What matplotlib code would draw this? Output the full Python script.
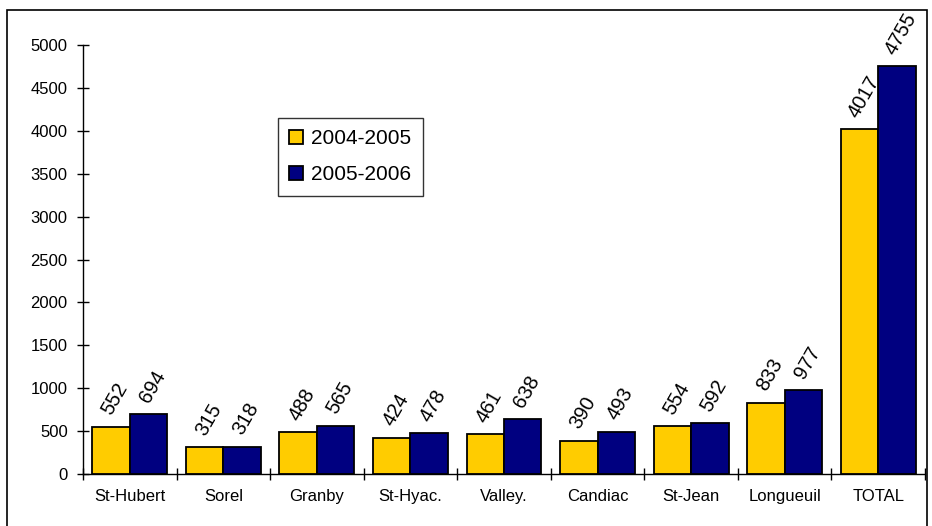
"""
Bar chart: counts per site, 2004-2005 vs 2005-2006.
"""
import matplotlib

matplotlib.use("Agg")
import matplotlib.pyplot as plt
import numpy as np
from matplotlib.patches import Rectangle


sites = ["St-Hubert", "Sorel", "Granby", "St-Hyac.", "Valley.",
         "Candiac", "St-Jean", "Longueuil", "TOTAL"]
values_0405 = [552, 315, 488, 424, 461, 390, 554, 833, 4017]
values_0506 = [694, 318, 565, 478, 638, 493, 592, 977, 4755]
series_labels = ["2004-2005", "2005-2006"]
yticks = list(range(0, 5001, 500))

plt.rcParams["font.family"] = ["Liberation Sans", "DejaVu Sans"]

fig = plt.figure(figsize=(9.32, 5.26), dpi=100)
ax = fig.add_axes([83 / 932, 1 - 474 / 526, (925 - 83) / 932, (474 - 45) / 526])

# outer frame like the original chart area
fig.patches.append(Rectangle((7 / 932, -0.05), (927 - 7) / 932, 1 - 10 / 526 + 0.05,
                             transform=fig.transFigure, fill=False,
                             edgecolor="black", linewidth=1.2))

x = np.arange(len(sites))
w = 0.4
b1 = ax.bar(x - w / 2, values_0405, w, color="#FFCC00", edgecolor="black",
            linewidth=1.3, label=series_labels[0], zorder=3)
b2 = ax.bar(x + w / 2, values_0506, w, color="#000080", edgecolor="black",
            linewidth=1.3, label=series_labels[1], zorder=3)

for bars in (b1, b2):
    for rect in bars:
        h = rect.get_height()
        ax.annotate(f"{h:.0f}", (rect.get_x() + rect.get_width() / 2, h),
                    xytext=(3, 6), textcoords="offset points",
                    ha="center", va="bottom", rotation=60, fontsize=14.5)

ax.set_xlim(-0.5, len(sites) - 0.5)
ax.set_ylim(0, 5000)
ax.set_yticks(yticks)
ax.set_yticklabels([str(v) for v in yticks], fontsize=12)
ax.set_xticks(x)
ax.set_xticklabels(sites, fontsize=12)
ax.set_xticks(np.arange(len(sites) + 1) - 0.5, minor=True)
ax.tick_params(axis="x", which="major", length=0, pad=11)
ax.tick_params(axis="x", which="minor", direction="inout", length=8, width=1)
ax.tick_params(axis="y", direction="inout", length=8, width=1, pad=7)

for side in ("top", "right"):
    ax.spines[side].set_visible(False)
for side in ("left", "bottom"):
    ax.spines[side].set_linewidth(1)

leg = ax.legend(loc="upper left", bbox_to_anchor=((278 - 83) / 842, (474 - 118) / 429),
                fontsize=15, frameon=True, fancybox=False, handlelength=0.65,
                handleheight=0.65, handletextpad=0.4, labelspacing=0.8,
                borderpad=0.55, borderaxespad=0)
leg.get_frame().set_edgecolor("black")
leg.get_frame().set_linewidth(1)

plt.savefig("out.png", dpi=100)
plt.close(fig)
